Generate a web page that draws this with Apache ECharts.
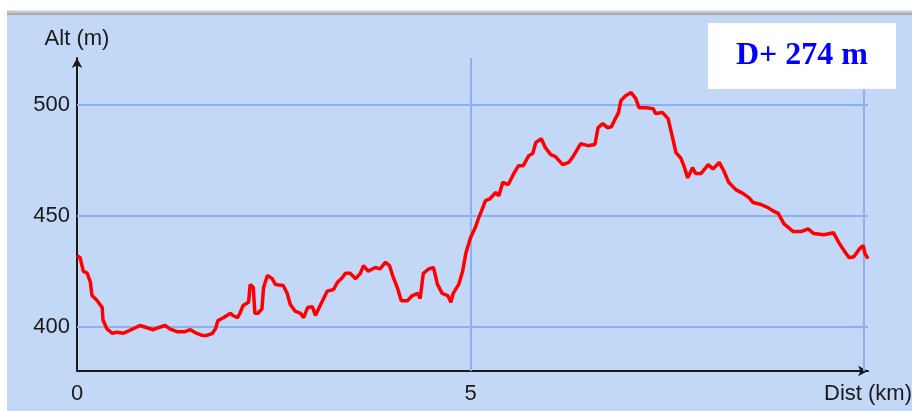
<!DOCTYPE html>
<html>
<head>
<meta charset="utf-8">
<script src="https://cdn.jsdelivr.net/npm/echarts@6/dist/echarts.min.js"></script>
<style>
html,body{margin:0;padding:0;background:#fff;}
#c{width:912px;height:411px;}
</style>
</head>
<body>
<div id="c"></div>
<script>
// Distance (km) and altitude (m) read from the profile
const distKm = [0.00,0.04,0.08,0.13,0.17,0.19,0.25,0.32,0.33,0.38,0.45,0.51,0.59,0.65,0.74,0.80,0.89,0.97,1.03,1.12,1.18,1.27,1.37,1.44,1.50,1.59,1.65,1.72,1.76,1.79,1.86,1.95,1.98,2.04,2.07,2.11,2.18,2.20,2.24,2.26,2.30,2.35,2.37,2.42,2.48,2.52,2.62,2.67,2.71,2.77,2.84,2.88,2.93,2.99,3.03,3.09,3.18,3.26,3.31,3.37,3.41,3.47,3.54,3.60,3.64,3.70,3.79,3.85,3.92,3.97,4.01,4.07,4.12,4.20,4.26,4.33,4.36,4.40,4.47,4.53,4.58,4.64,4.71,4.75,4.78,4.85,4.90,4.94,4.97,5.00,5.06,5.10,5.15,5.19,5.25,5.32,5.36,5.41,5.48,5.55,5.61,5.67,5.74,5.79,5.83,5.90,5.95,6.02,6.08,6.17,6.25,6.31,6.40,6.49,6.58,6.62,6.68,6.74,6.79,6.84,6.88,6.91,6.97,7.04,7.10,7.14,7.23,7.32,7.35,7.44,7.51,7.57,7.61,7.67,7.71,7.76,7.82,7.86,7.93,8.02,8.08,8.16,8.22,8.28,8.37,8.46,8.54,8.59,8.69,8.78,8.85,8.91,8.98,9.10,9.20,9.29,9.36,9.49,9.61,9.68,9.75,9.81,9.87,9.94,9.99,10.01,10.05];
const altM = [432,431,425,424,420,414,412,408.6,403,399,397,397.5,397,398,399.5,400.5,399.5,398.6,399.5,400.5,399,397.7,397.7,398.6,397.3,396,396,397,399,402.7,404,406,405,404,406,409.5,411,419,417.6,406,406,408,417.6,423,421.6,419,418.5,415,410,407,406,404,408.6,409,405,409.5,416,416.7,420,422,424,424,421.6,424,427.5,425,426.6,426,429,427.5,423,417.6,411.7,411.7,414,415,412.6,424,426,426.6,419,415,414,411,415,419,425,433,436.5,440,444.6,448.6,453,456.8,457.7,460.4,459,465,464,469,472.5,472.5,477,478,483,484.7,480.6,477.5,476.6,473,474,477,482.4,481.5,482,489.6,491.4,489.6,490,493.7,496.4,501.8,504,505.4,502.7,498.6,498.6,498.2,496,496.4,493.7,484.7,478.4,476,472.5,467,471.6,469,469,473,471,474,470,465,461.7,460,458,455.9,455,453.6,452,451,446.4,442.8,442.8,444,441.9,441.4,442.3,437.8,434,431,431.5,435,436.5,433,430.6];
const yTickLabels = [400, 450, 500];
const xTickLabels = [0, 5];
const xGridValues = [5, 10];
const yAxisName = 'Alt (m)';
const xAxisName = 'Dist (km)';
const gainText = 'D+ 274 m';

const points = distKm.map((d, i) => [d, altM[i]]);

const chart = echarts.init(document.getElementById('c'), null, {renderer: 'canvas'});
const gridColor = 'rgb(143,176,240)';
const font = '"Liberation Sans", Arial, sans-serif';

chart.setOption({
  animation: false,
  backgroundColor: '#ffffff',
  graphic: [
    {type: 'rect', z: -10, shape: {x: 7, y: 15, width: 905, height: 396}, style: {fill: 'rgb(194,216,246)'}},
    {type: 'rect', z: -10, shape: {x: 7, y: 10, width: 905, height: 5},
      style: {fill: new echarts.graphic.LinearGradient(0, 0, 0, 1, [
        {offset: 0, color: '#e8e8e8'}, {offset: 0.6, color: '#b8b8b8'}, {offset: 1, color: '#a0a0a0'}])}},
    {type: 'rect', z: 50, shape: {x: 708, y: 23, width: 188, height: 66}, style: {fill: '#ffffff'}},
    {type: 'text', z: 51, x: 802, y: 56, style: {text: gainText, fill: '#0000ff',
      font: 'bold 32px "Liberation Serif", "Times New Roman", serif', textAlign: 'center', textVerticalAlign: 'middle'}}
  ],
  grid: {left: 77, right: 44, top: 58, bottom: 40, containLabel: false, outerBoundsMode: 'none'},
  xAxis: {
    type: 'value', min: 0, max: 10.05, interval: 5,
    name: xAxisName, nameLocation: 'end', nameGap: 0,
    nameTextStyle: {color: '#1a1a1a', fontFamily: font, fontSize: 22, align: 'center', verticalAlign: 'top', padding: [12, 0, 0, 0]},
    axisLine: {show: true, symbol: ['none', 'arrow'], symbolSize: [8, 10], lineStyle: {color: '#1a1a1a', width: 2}},
    axisTick: {show: false},
    splitLine: {show: false},
    axisLabel: {color: '#1a1a1a', fontFamily: font, fontSize: 22, margin: 12,
      showMaxLabel: false,
      formatter: v => xTickLabels.includes(v) ? String(v) : ''}
  },
  yAxis: {
    type: 'value', min: 380, max: 521, interval: 10,
    name: yAxisName, nameLocation: 'end', nameGap: 8,
    nameTextStyle: {color: '#1a1a1a', fontFamily: font, fontSize: 22, align: 'center'},
    axisLine: {show: true, symbol: ['none', 'arrow'], symbolSize: [8, 10], lineStyle: {color: '#1a1a1a', width: 2}},
    axisTick: {show: false},
    splitLine: {show: false},
    axisLabel: {color: '#1a1a1a', fontFamily: font, fontSize: 22, margin: 7,
      formatter: v => yTickLabels.includes(v) ? String(v) : ''}
  },
  series: [
    {
      type: 'line', z: 1, data: points, showSymbol: false, silent: true,
      lineStyle: {opacity: 0, width: 0},
      markLine: {
        silent: true, symbol: ['none', 'none'], label: {show: false},
        lineStyle: {type: 'solid', color: gridColor, width: 2},
        data: yTickLabels.map(v => ({yAxis: v})).concat(xGridValues.map(v => ({xAxis: v})))
      }
    },
    {
      type: 'line', z: 5, data: points, showSymbol: false, smooth: false,
      lineStyle: {color: '#ff0000', width: 3.5}
    }
  ]
});
</script>
</body>
</html>
